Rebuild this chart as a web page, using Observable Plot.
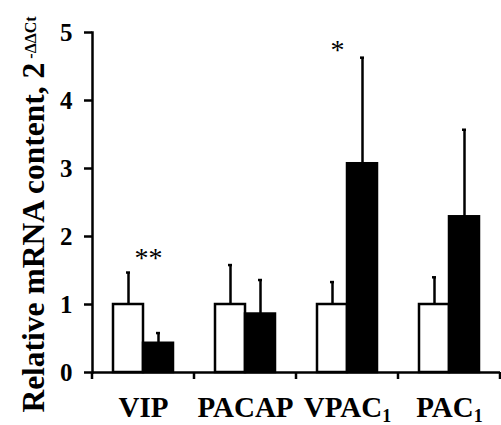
<!DOCTYPE html>
<html>
<head>
<meta charset="utf-8">
<script src="https://cdn.jsdelivr.net/npm/d3@7"></script>
<script src="https://cdn.jsdelivr.net/npm/@observablehq/plot@0.6"></script>
<style>
  html, body { margin: 0; padding: 0; background: #fff; }
</style>
</head>
<body>
<div id="chart"></div>
<script>
// ---- data ----
const categories = ["VIP", "PACAP", "VPAC1", "PAC1"];
const groups = ["control", "treated"];
const controlMean = [1, 1, 1, 1];
const controlUpper = [1.47, 1.58, 1.33, 1.40];   // mean + error
const treatedMean = [0.43, 0.86, 3.07, 2.29];
const treatedUpper = [0.58, 1.36, 4.63, 3.57];    // mean + error
const yTicks = [0, 1, 2, 3, 4, 5];
const yLabelMain = "Relative mRNA content, 2";
const yLabelSup = "-ΔΔCt";
const subscripted = {"VPAC1": ["VPAC", "1"], "PAC1": ["PAC", "1"]};
const sigDouble = [{cat: "VIP", text: "**", y: 1.68}];
const sigSingle = [{cat: "VPAC1", text: "*", y: 4.74}];

const rows = categories.flatMap((c, i) => [
  {cat: c, group: groups[0], value: controlMean[i], upper: controlUpper[i]},
  {cat: c, group: groups[1], value: treatedMean[i], upper: treatedUpper[i]}
]);

const font = "'Liberation Serif', 'Times New Roman', Times, serif";

const plot = Plot.plot({
  width: 501,
  height: 425,
  marginLeft: 92,
  marginRight: 1,
  marginTop: 32,
  marginBottom: 53,
  style: {fontFamily: font, fontWeight: "bold", background: "white", color: "black", overflow: "visible"},
  fx: {domain: categories, padding: 0, label: null},
  x: {domain: groups, paddingInner: 0, paddingOuter: 0.67, axis: null},
  y: {domain: [0, 5]},
  color: {domain: groups, range: ["white", "black"]},
  marks: [
    Plot.ruleX(rows, {fx: "cat", x: "group", y1: "value", y2: "upper", stroke: "black", strokeWidth: 2.5}),
    Plot.tickY(rows, {fx: "cat", x: "group", y: "upper", stroke: "black", strokeWidth: 2.5, inset: 13}),
    Plot.barY(rows, {fx: "cat", x: "group", y: "value", fill: "group", stroke: "black", strokeWidth: 2.5}),
    Plot.ruleY([0], {stroke: "black", strokeWidth: 2.5}),
    Plot.frame({anchor: "left", facetAnchor: "left", stroke: "black", strokeWidth: 2.5}),
    Plot.axisY({ticks: yTicks, tickFormat: d3.format("d"), tickSize: 8, tickPadding: 12, strokeWidth: 2.5, fontSize: 25,
                label: yLabelMain, labelAnchor: "center", labelOffset: 71, labelArrow: false}),
    Plot.axisFx({anchor: "bottom", tickSize: 0, tickPadding: 24, fontSize: 29, label: null}),
    Plot.text(sigDouble, {fx: "cat", x: () => groups[0], y: "y", text: "text", dx: 20, fontSize: 28, fontWeight: "normal", fill: "black"}),
    Plot.text(sigSingle, {fx: "cat", x: () => groups[0], y: "y", text: "text", dx: 5, fontSize: 28, fontWeight: "normal", fill: "black"})
  ]
});

// boundary ticks on the category axis, from the fx scale
const fx = plot.scale("fx");
const ys = plot.scale("y");
const y0 = ys.apply(0);
const edges = categories.map(c => fx.apply(c));
edges.push(fx.apply(categories[categories.length - 1]) + fx.bandwidth);
d3.select(plot).append("g").attr("aria-label", "category boundary ticks")
  .selectAll("line").data(edges).join("line")
  .attr("x1", d => d).attr("x2", d => d)
  .attr("y1", y0).attr("y2", y0 + 7)
  .attr("stroke", "black").attr("stroke-width", 2.5);

// subscripts / superscript as real text
d3.select(plot).selectAll("text").each(function () {
  const t = this.textContent;
  if (subscripted[t]) {
    const [main, sub] = subscripted[t];
    this.textContent = main;
    d3.select(this).append("tspan").attr("font-size", 18).attr("dy", 5).text(sub);
  } else if (t === yLabelMain) {
    d3.select(this).attr("font-size", 31.5).attr("dx", -12);
    d3.select(this).append("tspan").attr("font-size", 16).attr("dy", -8).text(" " + yLabelSup);
  }
});

document.getElementById("chart").appendChild(plot);
</script>
</body>
</html>
